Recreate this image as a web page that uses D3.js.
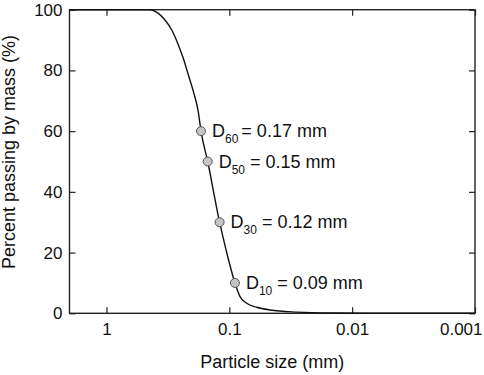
<!DOCTYPE html>
<html>
<head>
<meta charset="utf-8">
<script src="https://cdn.jsdelivr.net/npm/d3@7"></script>
<style>
  body { margin: 0; background: #fff; }
  text { font-family: "Liberation Sans", Arial, sans-serif; fill: #111; }
</style>
</head>
<body>
<script>
// grading curve (size in mm, percent passing)
var sizes   = [2, 0.442, 0.378, 0.334, 0.294, 0.26, 0.237, 0.2155, 0.196, 0.179, 0.17, 0.15, 0.12, 0.105, 0.09, 0.0818, 0.0722, 0.0599, 0.0466, 0.0282, 0.0151, 0.005, 0.001];
var percent = [100, 100, 98.8, 96.6, 93.3, 88.4, 84, 78.5, 73, 66.4, 60, 50, 30, 20, 10, 5.5, 3.3, 2.0, 1.1, 0.4, 0.1, 0.02, 0];

// marked characteristic diameters
var dNames  = ["60", "50", "30", "10"];
var dSizes  = [0.17, 0.15, 0.12, 0.09];
var dLabels = ["0.17 mm", "0.15 mm", "0.12 mm", "0.09 mm"];

var xTicks = [1, 0.1, 0.01, 0.001];
var yTicks = [0, 20, 40, 60, 80, 100];

var width = 484, height = 375;
var svg = d3.select("body").append("svg")
            .attr("width", width).attr("height", height);

var x = d3.scaleLog().domain([2, 0.001]).range([69.5, 475]);
var y = d3.scaleLinear().domain([0, 100]).range([313.3, 9.7]);

// bottom axis with labels, inner ticks
var xAxis = svg.append("g").attr("transform", "translate(0," + y(0) + ")")
   .call(d3.axisBottom(x).tickValues(xTicks).tickSize(-6).tickPadding(10)
          .tickFormat(function(d){ return String(d); }));
// last label sits flush with the right edge
xAxis.selectAll(".tick").filter(function(d){ return d == 0.001; })
   .select("text").attr("text-anchor", "end").attr("x", 7);
// top ticks only
var xTop = svg.append("g").attr("transform", "translate(0," + y(100) + ")")
   .call(d3.axisTop(x).tickValues(xTicks).tickSize(-6).tickFormat(""));
var yAxis = svg.append("g").attr("transform", "translate(" + x(2) + ",0)")
   .call(d3.axisLeft(y).tickValues(yTicks).tickSize(-6).tickPadding(7));
var yRight = svg.append("g").attr("transform", "translate(" + x(0.001) + ",0)")
   .call(d3.axisRight(y).tickValues(yTicks).tickSize(-6).tickFormat(""));

[xAxis, xTop, yAxis, yRight].forEach(function(g){
  g.select(".domain").remove();
  g.selectAll("line").attr("stroke", "#222").attr("stroke-width", 1.2);
  g.selectAll("text").attr("font-size", "17px")
   .attr("font-family", "'Liberation Sans', Arial, sans-serif").attr("fill", "#111");
});

// frame
svg.append("rect")
   .attr("x", x(2)).attr("y", y(100))
   .attr("width", x(0.001) - x(2)).attr("height", y(0) - y(100))
   .attr("fill", "none").attr("stroke", "#222").attr("stroke-width", 1.4);

// curve
var pts = sizes.map(function(s, i){ return [x(s), y(percent[i])]; });
var line = d3.line().curve(d3.curveMonotoneX);
svg.append("path").attr("d", line(pts))
   .attr("fill", "none").attr("stroke", "#111").attr("stroke-width", 1.4);

// D markers
var marks = svg.append("g").selectAll("g").data(dNames).enter().append("g");
marks.append("circle")
   .attr("cx", function(d, i){ return x(dSizes[i]); })
   .attr("cy", function(d, i){ return y(+d); })
   .attr("r", 4.5)
   .attr("fill", "#c4c4c4").attr("stroke", "#555").attr("stroke-width", 1);

var lab = marks.append("text")
   .attr("x", function(d, i){ return x(dSizes[i]) + 11; })
   .attr("y", function(d, i){ return y(+d) + 6; })
   .attr("font-size", "18px");
lab.append("tspan").text("D");
lab.append("tspan").attr("font-size", "12px").attr("dy", 6).text(function(d){ return d; });
lab.append("tspan").attr("dy", -6)
   .attr("dx", function(d, i){ return i == 0 ? -2 : 0; })
   .text(function(d, i){ return " = " + dLabels[i]; });

// axis titles
svg.append("text")
   .attr("x", (x(2) + x(0.001)) / 2).attr("y", 368)
   .attr("text-anchor", "middle").attr("font-size", "18px")
   .text("Particle size (mm)");

svg.append("text")
   .attr("transform", "translate(15,152) rotate(-90)")
   .attr("text-anchor", "middle").attr("font-size", "18px")
   .text("Percent passing by mass (%)");
</script>
</body>
</html>
